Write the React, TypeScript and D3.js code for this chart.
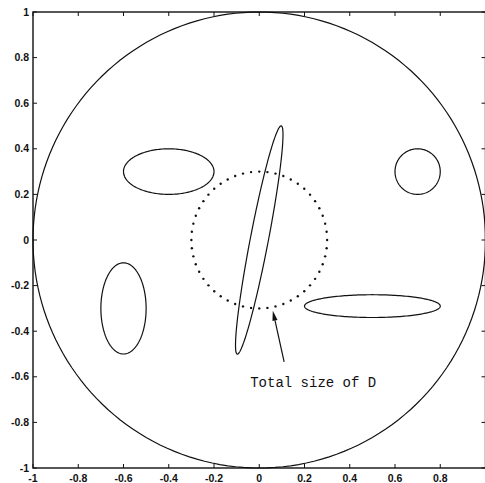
import React from 'react';
import * as d3 from 'd3';

// outlines drawn in data units: [unit disk, upper-left, right circle, lower-left, lower-right, tilted]
const shapeCx = [0, -0.4, 0.7, -0.6, 0.5, 0];
const shapeCy = [0, 0.3, 0.3, -0.3, -0.29, 0];
const shapeRx = [1, 0.2, 0.1, 0.1, 0.3, 0.04];
const shapeRy = [1, 0.1, 0.1, 0.2, 0.05, 0.51];
const shapeAngle = [0, 0, 0, 0, 0, -11];

// dotted region D
const dottedCenter = [0, 0];
const dottedRadius = 0.3;
const dottedCount = 52;

// annotation
const arrowFrom = [0.11, -0.535];
const arrowTo = [0.06, -0.31];
const noteAt = [-0.04, -0.645];
const noteText = 'Total size of D';

const xTicks = [-1, -0.8, -0.6, -0.4, -0.2, 0, 0.2, 0.4, 0.6, 0.8];
const yTicks = [-1, -0.8, -0.6, -0.4, -0.2, 0, 0.2, 0.4, 0.6, 0.8, 1];

export default function App() {
  const width = 485;
  const height = 483;

  const x = d3.scaleLinear().domain([-1, 1]).range([33, 485.5]);
  const y = d3.scaleLinear().domain([-1, 1]).range([468, 12]);

  const line = d3
    .line<[number, number]>()
    .x((d) => x(d[0]))
    .y((d) => y(d[1]))
    .curve(d3.curveLinearClosed);

  const steps = d3.range(0, 360, 2).map((a) => (a * Math.PI) / 180);

  const shapes = shapeCx.map((cx, i) => {
    const th = (shapeAngle[i] * Math.PI) / 180;
    const pts = steps.map((t): [number, number] => {
      const a = shapeRx[i] * Math.cos(t);
      const b = shapeRy[i] * Math.sin(t);
      return [cx + a * Math.cos(th) - b * Math.sin(th), shapeCy[i] + a * Math.sin(th) + b * Math.cos(th)];
    });
    return line(pts);
  });

  const dots = d3.range(dottedCount).map((k) => {
    const t = (k / dottedCount) * Math.PI * 2;
    return [dottedCenter[0] + dottedRadius * Math.cos(t), dottedCenter[1] + dottedRadius * Math.sin(t)];
  });

  // arrow head in pixels
  const ax0 = x(arrowFrom[0]), ay0 = y(arrowFrom[1]);
  const ax1 = x(arrowTo[0]), ay1 = y(arrowTo[1]);
  const ang = Math.atan2(ay1 - ay0, ax1 - ax0);
  const headLen = 10;
  const headW = 2.6;
  const bx = ax1 - headLen * Math.cos(ang);
  const by = ay1 - headLen * Math.sin(ang);
  const head = [
    [ax1, ay1],
    [bx + headW * Math.sin(ang), by - headW * Math.cos(ang)],
    [bx - headW * Math.sin(ang), by + headW * Math.cos(ang)]
  ].map((p) => p.join(',')).join(' ');

  const [x0, x1] = x.range();
  const [y0, y1] = y.range();
  const tickLen = 4;

  return (
    <svg
      width={width}
      height={height}
      style={{ position: 'absolute', left: 0, top: 0, background: '#fff' }}
      xmlns="http://www.w3.org/2000/svg">
      <g key="shapes" fill="none" stroke="#111" strokeWidth="1.2">
        {shapes.map((d, i) => (
          <path key={`shape-${i}`} d={d || ''} />
        ))}
      </g>
      <g key="dotted" fill="#111">
        {dots.map((d, i) => (
          <circle key={`dot-${i}`} cx={x(d[0])} cy={y(d[1])} r="1.2" />
        ))}
      </g>
      <g key="arrow">
        <line x1={ax0} y1={ay0} x2={bx} y2={by} stroke="#111" strokeWidth="1.2" />
        <polygon points={head} fill="#111" />
      </g>
      <text
        x={x(noteAt[0])}
        y={y(noteAt[1])}
        style={{ font: '14px "Liberation Mono", monospace' }}
        fill="#111">
        {noteText}
      </text>
      <g key="frame" fill="none" stroke="#111" strokeWidth="1.4">
        <rect x={x0} y={y1} width={x1 - x0} height={y0 - y1} />
      </g>
      <g key="x-ticks" stroke="#111" strokeWidth="1">
        {xTicks.map((t) => (
          <g key={`xt-${t}`}>
            <line x1={x(t)} x2={x(t)} y1={y0} y2={y0 - tickLen} />
            <line x1={x(t)} x2={x(t)} y1={y1} y2={y1 + tickLen} />
          </g>
        ))}
      </g>
      <g key="y-ticks" stroke="#111" strokeWidth="1">
        {yTicks.map((t) => (
          <g key={`yt-${t}`}>
            <line x1={x0} x2={x0 + tickLen} y1={y(t)} y2={y(t)} />
            <line x1={x1} x2={x1 - tickLen} y1={y(t)} y2={y(t)} />
          </g>
        ))}
      </g>
      <g key="x-labels" textAnchor="middle" fill="#111" style={{ font: 'bold 10.5px "Liberation Sans", Arial, sans-serif' }}>
        {xTicks.map((t) => (
          <text key={`xl-${t}`} x={x(t)} y={482}>
            {String(t)}
          </text>
        ))}
      </g>
      <g key="y-labels" textAnchor="end" fill="#111" style={{ font: 'bold 10.5px "Liberation Sans", Arial, sans-serif' }}>
        {yTicks.map((t) => (
          <text key={`yl-${t}`} x={29} y={y(t)} dy="0.35em">
            {String(t)}
          </text>
        ))}
      </g>
    </svg>
  );
}
